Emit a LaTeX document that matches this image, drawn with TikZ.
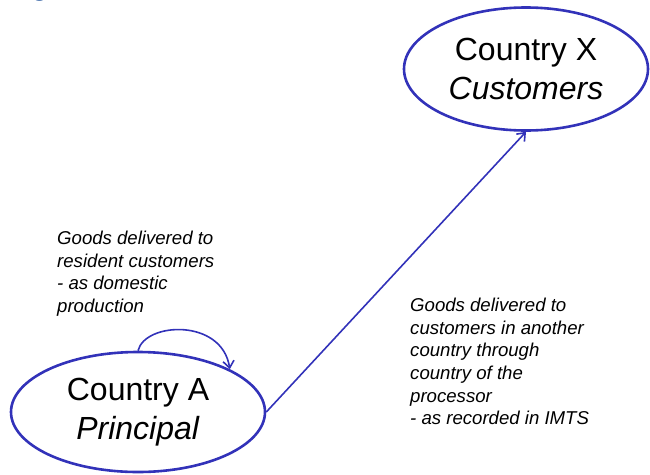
\documentclass[tikz,border=0pt]{standalone}
\usepackage{fontspec}
\setmainfont{Liberation Sans}
\newfontfamily\titlefont{Carlito}
\usetikzlibrary{shapes.geometric,arrows.meta}
\definecolor{ellblue}{RGB}{50,50,185}
\definecolor{titleblue}{RGB}{55,100,165}
\tikzset{
  country/.style={ellipse, draw=ellblue, line width=2.6pt, inner sep=0pt,
    align=center, font=\fontsize{32}{39}\selectfont},
  flow/.style={draw=ellblue, line width=1.6pt, -{Straight Barb[length=7pt,width=11pt,line width=1.6pt]}},
  note/.style={align=left, anchor=north west, inner sep=0pt,
    font=\fontsize{18.6}{22.6}\selectfont\itshape}
}
\begin{document}
\begin{tikzpicture}[x=1pt,y=-1pt]
\useasboundingbox (0,0) rectangle (650,474);
\node[font=\titlefont\fontsize{28}{30}\selectfont, text=titleblue, anchor=base west, inner sep=0pt] (ttl) at (33,-3.5) {g};
\node[country, minimum width=254, minimum height=120] (A) at (138,412) {Country A\\\textit{Principal}};
\node[country, minimum width=244, minimum height=123] (X) at (526,69) {Country X\\\textit{Customers}};
\draw[flow] (A.east) -- (X.south);
\draw[flow] (A.north) .. controls (145,322) and (222,318) .. (A.25);
\node[note] (n1) at (57,231) {Goods delivered to\\resident customers\\- as domestic\\production};
\node[note] (n2) at (410,298) {Goods delivered to\\customers in another\\country through\\country of the\\processor\\- as recorded in IMTS};
\end{tikzpicture}
\end{document}
